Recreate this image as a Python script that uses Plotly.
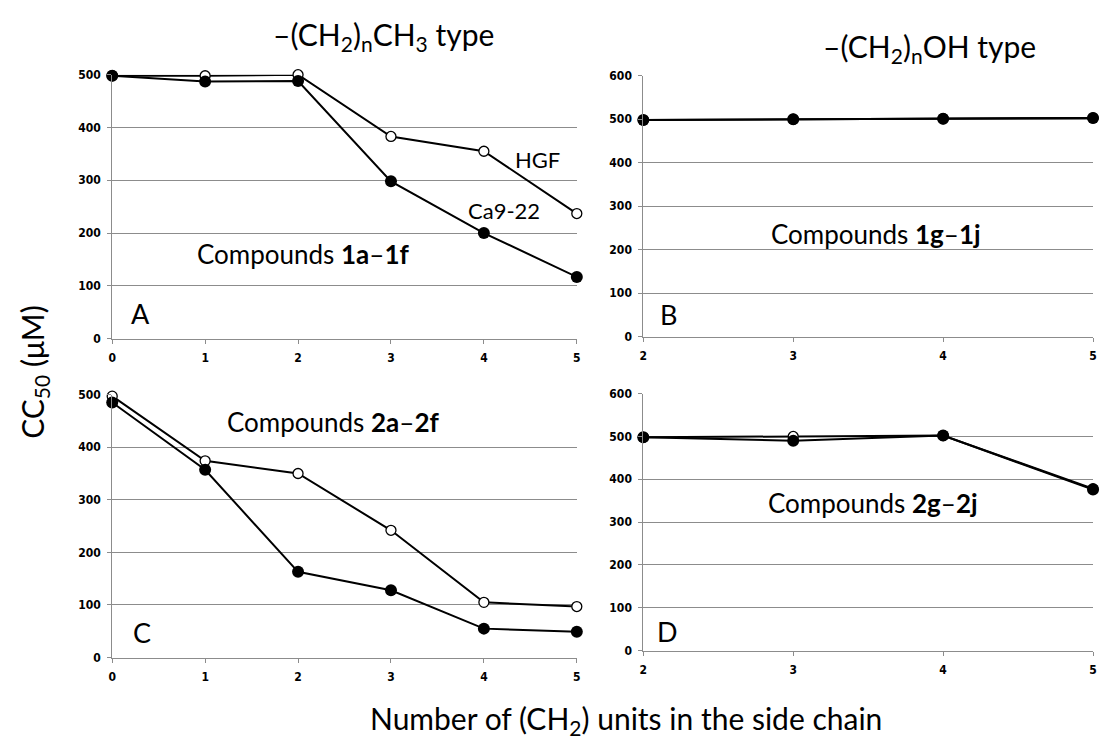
import plotly.graph_objects as go

# ---------------- data ----------------
x_ch3 = [0, 1, 2, 3, 4, 5]
x_oh = [2, 3, 4, 5]

a_hgf = [498, 498, 500, 383, 355, 237]
a_ca = [498, 487, 488, 298, 200, 117]

b_hgf = [498, 500, 501, 503]
b_ca = [498, 500, 501, 503]

c_hgf = [497, 374, 350, 242, 105, 97]
c_ca = [485, 357, 163, 128, 55, 49]

d_hgf = [498, 500, 502, 378]
d_ca = [498, 490, 502, 376]

yticks_ch3 = [0, 100, 200, 300, 400, 500]
yticks_oh = [0, 100, 200, 300, 400, 500, 600]

TXT = "Lato, Open Sans, sans-serif"
TICK = "Liberation Sans Narrow, DejaVu Sans Condensed, Liberation Serif, serif"

fig = go.Figure()

def add_pair(xs, hgf, ca, xa, ya):
    fig.add_trace(go.Scatter(x=xs, y=hgf, mode="lines+markers", xaxis=xa, yaxis=ya,
                             line=dict(color="black", width=2),
                             marker=dict(symbol="circle", size=10, color="white",
                                         line=dict(color="black", width=1.3)),
                             cliponaxis=False, showlegend=False, name="HGF"))
    fig.add_trace(go.Scatter(x=xs, y=ca, mode="lines+markers", xaxis=xa, yaxis=ya,
                             line=dict(color="black", width=2),
                             marker=dict(symbol="circle", size=12, color="black"),
                             cliponaxis=False, showlegend=False, name="Ca9-22"))

add_pair(x_ch3, a_hgf, a_ca, "x", "y")
add_pair(x_oh, b_hgf, b_ca, "x2", "y2")
add_pair(x_ch3, c_hgf, c_ca, "x3", "y3")
add_pair(x_oh, d_hgf, d_ca, "x4", "y4")

W, H = 1100, 746
def px(a, b):
    return [a / W, b / W]
def py(bottom, top):
    return [(H - bottom) / H, (H - top) / H]

grid = "#8c8c8c"
xcommon = dict(showgrid=False, zeroline=False, showline=True, linecolor=grid, linewidth=1,
               ticks="outside", ticklen=4, tickcolor=grid, tickwidth=1,
               tickfont=dict(family=TICK, size=12, color="black", weight="bold"),
               ticklabelstandoff=4, dtick=1)
ycommon = dict(showgrid=True, gridcolor=grid, gridwidth=1, zeroline=False,
               showline=True, linecolor=grid, linewidth=1,
               ticks="outside", ticklen=4, tickcolor=grid, tickwidth=1,
               tickfont=dict(family=TICK, size=12, color="black", weight="bold"),
               ticklabelstandoff=4)

fig.update_layout(
    width=W, height=H, margin=dict(l=0, r=0, t=0, b=0),
    paper_bgcolor="white", plot_bgcolor="white",
    xaxis=dict(xcommon, domain=px(109, 577), range=[0, 5], anchor="y"),
    yaxis=dict(ycommon, domain=py(338, 69), range=[0, 500], tickvals=yticks_ch3, anchor="x"),
    xaxis2=dict(xcommon, domain=px(644, 1097), range=[2, 5], anchor="y2"),
    yaxis2=dict(ycommon, domain=py(336, 70), range=[0, 600], tickvals=yticks_oh, anchor="x2"),
    xaxis3=dict(xcommon, domain=px(109, 577), range=[0, 5], anchor="y3"),
    yaxis3=dict(ycommon, domain=py(663, 395), range=[0, 500], tickvals=yticks_ch3, anchor="x3"),
    xaxis4=dict(xcommon, domain=px(644, 1097), range=[2, 5], anchor="y4"),
    yaxis4=dict(ycommon, domain=py(656, 394), range=[0, 600], tickvals=yticks_oh, anchor="x4"),
)

def ann(text, x, y, xref, yref, size, **kw):
    fig.add_annotation(text=text, x=x, y=y, xref=xref, yref=yref, showarrow=False,
                       xanchor="center", yanchor="middle",
                       font=dict(family=TXT, size=size, color="black"), **kw)

# panel texts
ann("HGF", 4.58, 340, "x", "y", 22)
ann("Ca9-22", 4.22, 242, "x", "y", 22)
ann("Compounds <b>1a</b>–<b>1f</b>", 2.05, 160, "x", "y", 26)
ann("A", 0.30, 48, "x", "y", 27)
ann("Compounds <b>1g</b>–<b>1j</b>", 3.55, 236, "x2", "y2", 26)
ann("B", 2.17, 52, "x2", "y2", 27)
ann("Compounds <b>2a</b>–<b>2f</b>", 2.38, 448, "x3", "y3", 26)
ann("C", 0.32, 48, "x3", "y3", 27)
ann("Compounds <b>2g</b>–<b>2j</b>", 3.53, 345, "x4", "y4", 26)
ann("D", 2.16, 44, "x4", "y4", 27)

# titles
ann("–(CH<sub>2</sub>)<sub>n</sub>CH<sub>3</sub> type", 382 / W, (H - 30) / H, "paper", "paper", 30)
ann("–(CH<sub>2</sub>)<sub>n</sub>OH type", 932 / W, (H - 42) / H, "paper", "paper", 30)
ann("CC<sub>50</sub> (μM)", 30 / W, (H - 372) / H, "paper", "paper", 30, textangle=-90)
ann("Number of (CH<sub>2</sub>) units in the side chain", 627 / W, (H - 727) / H, "paper", "paper", 30)

fig.write_html("out.html")
